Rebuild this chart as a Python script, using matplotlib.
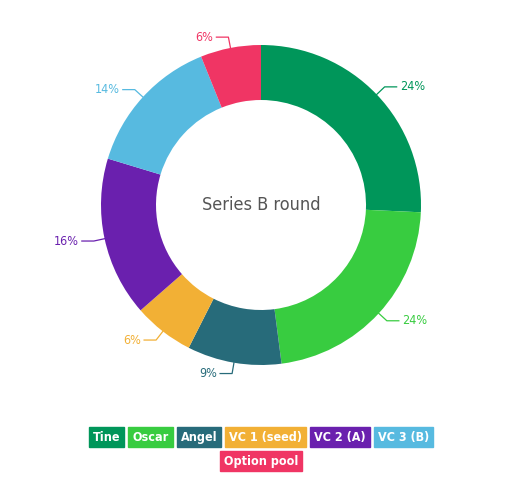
import numpy as np
import matplotlib.pyplot as plt
from matplotlib.patches import Rectangle

# slice shares as drawn, clockwise from 12 o'clock
names = ["Tine", "Oscar", "Angel", "VC 1 (seed)", "VC 2 (A)", "VC 3 (B)", "Option pool"]
shares = [25.7, 22.2, 9.5, 6.1, 16.1, 14.2, 6.1]
pct_labels = ["24%", "24%", "9%", "6%", "16%", "14%", "6%"]
colors = ["#00965A", "#38CC40", "#276B7A", "#F2B035", "#6A20AE", "#57BAE0", "#F03564"]
title = "Series B round"

W, H = 522, 494
plt.rcParams['font.family'] = ['DejaVu Sans']
plt.rcParams['font.stretch'] = 'condensed'

fig = plt.figure(figsize=(W / 100, H / 100), dpi=100)
ax = fig.add_axes([0, 0, 1, 1])

cx, cy = 261, H - 205
r_out, r_in = 160, 105

wedges, _ = ax.pie(shares, colors=colors, startangle=90, counterclock=False,
                   radius=r_out, center=(cx, cy),
                   wedgeprops=dict(width=r_out - r_in, edgecolor='none'))
ax.set_xlim(0, W)
ax.set_ylim(0, H)
ax.set_aspect('equal')
ax.set_axis_off()

# leader lines + percentage labels
for w, lab, col in zip(wedges, pct_labels, colors):
    ang = np.deg2rad((w.theta1 + w.theta2) / 2)
    x0, y0 = cx + r_out * np.cos(ang), cy + r_out * np.sin(ang)
    x1, y1 = cx + 171 * np.cos(ang), cy + 171 * np.sin(ang)
    side = 1 if np.cos(ang) >= 0 else -1
    x2 = x1 + side * 12
    ax.plot([x0, x1, x2], [y0, y1, y1], color=col, lw=0.9)
    ax.text(x2 + side * 3, y1, lab, color=col, fontsize=9,
            ha='left' if side > 0 else 'right', va='center')

ax.text(cx, cy, title, color='#555555', fontsize=13, ha='center', va='center')

# legend: coloured tags, centred rows
rows = [names[:6], names[6:]]
row_y = [H - 437.5, H - 461]
renderer = fig.canvas.get_renderer()
pad, gap, box_h = 4, 4, 20
for row, yc in zip(rows, row_y):
    texts = []
    widths = []
    for name in row:
        t = ax.text(0, yc, name, color='white', fontsize=9, fontweight='bold',
                    ha='center', va='center')
        texts.append(t)
        widths.append(t.get_window_extent(renderer).width + 2 * pad)
    total = sum(widths) + gap * (len(row) - 1)
    x = cx - total / 2
    for name, t, bw in zip(row, texts, widths):
        col = colors[names.index(name)]
        ax.add_patch(Rectangle((x, yc - box_h / 2), bw, box_h, color=col, zorder=1))
        t.set_x(x + bw / 2)
        t.set_zorder(2)
        x += bw + gap

fig.savefig("out.png", dpi=100)
